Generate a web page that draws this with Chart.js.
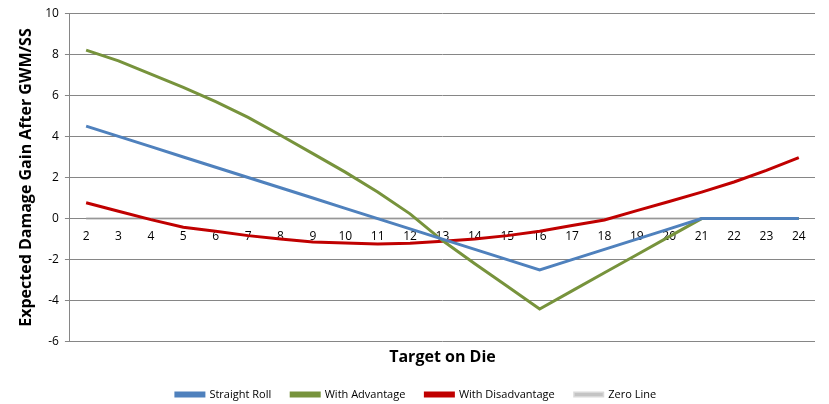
<!DOCTYPE html>
<html>
<head>
<meta charset="utf-8">
<script src="https://cdn.jsdelivr.net/npm/chart.js@4.4.0/dist/chart.umd.min.js"></script>
<style>
  html, body { margin: 0; padding: 0; background: #fff; }
  #wrap { width: 829px; height: 404px; }
</style>
</head>
<body>
<div id="wrap"><canvas id="chart" width="829" height="404"></canvas></div>
<script>
// x categories: target number on the die
const targets = ['2','3','4','5','6','7','8','9','10','11','12','13','14','15','16','17','18','19','20','21','22','23','24'];

// series values
const straightRoll = [4.5, 4.0, 3.5, 3.0, 2.5, 2.0, 1.5, 1.0, 0.5, 0.0, -0.5, -1.0, -1.5, -2.0, -2.5, -2.0, -1.5, -1.0, -0.5, 0, 0, 0, 0];
const withAdvantage = [8.2, 7.68, 7.03, 6.39, 5.69, 4.93, 4.06, 3.16, 2.26, 1.29, 0.23, -1.07, -2.2, -3.3, -4.4, -3.52, -2.64, -1.76, -0.88, 0, 0, 0, 0];
const withDisadvantage = [0.77, 0.36, -0.05, -0.42, -0.62, -0.83, -1.0, -1.14, -1.19, -1.24, -1.2, -1.11, -1.0, -0.83, -0.62, -0.34, -0.07, 0.39, 0.83, 1.29, 1.78, 2.35, 2.97];
const zeroLine = new Array(targets.length).fill(0);

const seriesNames = ['Straight Roll', 'With Advantage', 'With Disadvantage', 'Zero Line'];
const seriesColors = ['#4f81bd', '#77933c', '#c00000', 'rgba(172,172,172,0.46)'];

const yTicks = { min: -6, max: 10, step: 2 };

const FONT = '"Open Sans", "DejaVu Sans", sans-serif';

const datasets = [straightRoll, withAdvantage, withDisadvantage, zeroLine].map((vals, i) => ({
  label: seriesNames[i],
  data: vals,
  borderColor: seriesColors[i],
  backgroundColor: i === 3 ? '#d9d9d9' : seriesColors[i],
  borderWidth: 3,
  pointRadius: 0,
  tension: 0,
  order: i
}));

new Chart(document.getElementById('chart').getContext('2d'), {
  type: 'line',
  data: { labels: targets, datasets },
  options: {
    responsive: false,
    animation: false,
    layout: { padding: { left: 17, right: 14, top: 9, bottom: -6 } },
    plugins: {
      legend: {
        position: 'bottom',
        labels: {
          color: '#000',
          boxWidth: 28,
          boxHeight: 3,
          padding: 20,
          font: { family: FONT, size: 11 }
        }
      },
      tooltip: { enabled: false }
    },
    scales: {
      x: {
        type: 'category',
        offset: true,
        position: { y: 0 },
        grid: { display: false },
        border: { display: false },
        ticks: {
          color: '#000',
          padding: 3,
          maxRotation: 0,
          autoSkip: false,
          font: { family: FONT, size: 12 }
        }
      },
      xTitle: {
        type: 'category',
        position: 'bottom',
        labels: targets,
        offset: true,
        grid: { display: false },
        border: { display: false },
        ticks: { display: false },
        title: {
          display: true,
          text: 'Target on Die',
          color: '#000',
          font: { family: FONT, size: 16, weight: 'bold' },
          padding: { top: -2, bottom: 2 }
        }
      },
      y: {
        min: yTicks.min,
        max: yTicks.max,
        ticks: {
          stepSize: yTicks.step,
          color: '#000',
          padding: 6,
          font: { family: FONT, size: 12 }
        },
        grid: { color: '#868686', lineWidth: 1, tickLength: 5 },
        border: { color: '#868686', width: 1 },
        title: {
          display: true,
          text: 'Expected Damage Gain After GWM/SS',
          color: '#000',
          font: { family: FONT, size: 16, weight: 'bold' },
          padding: { top: 0, bottom: 3 }
        }
      }
    }
  }
});
</script>
</body>
</html>
